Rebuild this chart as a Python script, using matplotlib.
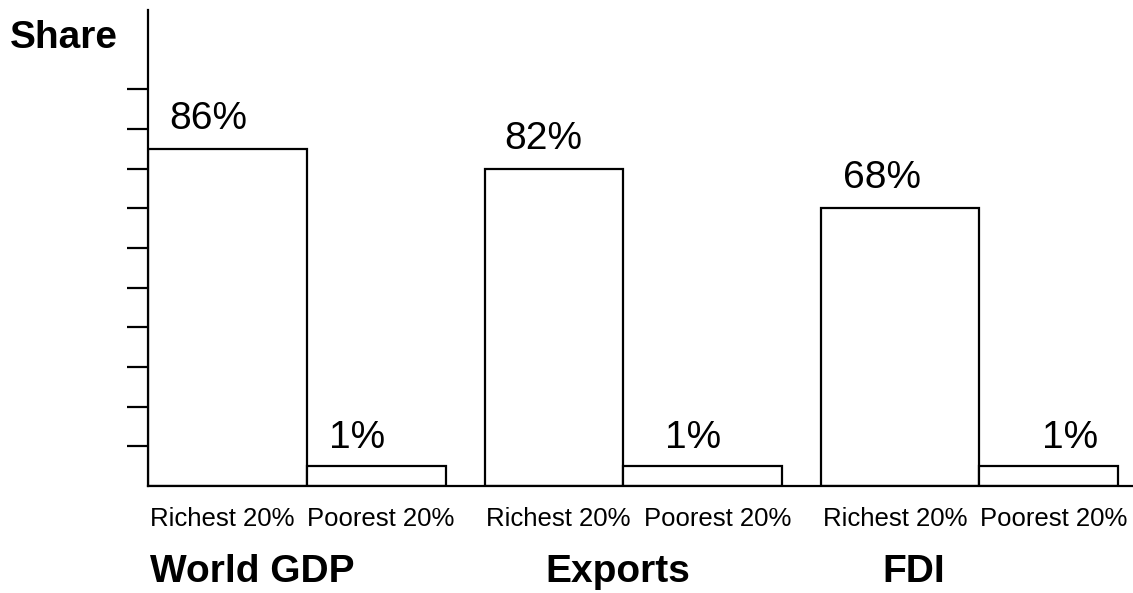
import matplotlib
matplotlib.use("Agg")
import matplotlib.pyplot as plt
import numpy as np

plt.rcParams["font.family"] = ["Liberation Sans", "DejaVu Sans"]

# data
groups = ["World GDP", "Exports", "FDI"]
bar_names = ["Richest 20%", "Poorest 20%"]
rich_heights = [85, 80, 70]      # drawn height, tick step = 10
poor_heights = [5, 5, 5]
rich_labels = ["86%", "82%", "68%"]
poor_labels = ["1%", "1%", "1%"]
y_ticks = [10, 20, 30, 40, 50, 60, 70, 80, 90, 100]

# layout (x in pixels from the y axis)
GROUP_STEP = 336.5
RICH_W = [159, 138, 158]
POOR_W = [139, 159, 139]
RICH_LABEL_DX = [21, 20, 22]
POOR_LABEL_DX = [22, 42, 63]
TITLE_DX = [2, 61, 61]
POOR_TICK_DX = 157

W, H, DPI = 1133, 593, 100
fig = plt.figure(figsize=(W / DPI, H / DPI), dpi=DPI)
ax = fig.add_axes([148 / W, (H - 486) / H, (W - 148) / W, (486 - 10) / H])
ax.set_xlim(0, W - 148)
ax.set_ylim(0, 120)

rich_left = np.arange(len(groups)) * GROUP_STEP
poor_left = rich_left + np.array(RICH_W)

style = dict(align="edge", facecolor="white", edgecolor="black", linewidth=1.6, zorder=2)
ax.bar(rich_left, rich_heights, width=RICH_W, **style)
ax.bar(poor_left, poor_heights, width=POOR_W, **style)

for g in range(len(groups)):
    ax.annotate(rich_labels[g], xy=(rich_left[g] + RICH_LABEL_DX[g], rich_heights[g]),
                xytext=(0, 14.4), textcoords="offset points",
                ha="left", va="baseline", fontsize=28)
    ax.annotate(poor_labels[g], xy=(poor_left[g] + POOR_LABEL_DX[g], poor_heights[g]),
                xytext=(0, 13), textcoords="offset points",
                ha="left", va="baseline", fontsize=28)
    # category labels under bars
    tick_x = rich_left[g] + 2
    for k, name in enumerate(bar_names):
        ax.annotate(name, xy=(tick_x + k * POOR_TICK_DX, 0), xycoords=("data", "axes fraction"),
                    xytext=(0, -28.8), textcoords="offset points",
                    ha="left", va="baseline", fontsize=18.5, annotation_clip=False)
    ax.annotate(groups[g], xy=(rich_left[g] + TITLE_DX[g], 0), xycoords=("data", "axes fraction"),
                xytext=(0, -69), textcoords="offset points",
                ha="left", va="baseline", fontsize=28, fontweight="bold",
                annotation_clip=False)

for side in ["top", "right"]:
    ax.spines[side].set_visible(False)
for side in ["left", "bottom"]:
    ax.spines[side].set_linewidth(1.6)
    ax.spines[side].set_zorder(3)

ax.set_yticks(y_ticks)
ax.set_yticklabels([])
ax.tick_params(axis="y", direction="out", length=15, width=1.6)
ax.set_xticks([])

fig.text(10 / W, 1 - 48 / H, "Share", ha="left", va="baseline",
         fontsize=28, fontweight="bold")

fig.savefig("out.png", dpi=DPI, facecolor="white")
